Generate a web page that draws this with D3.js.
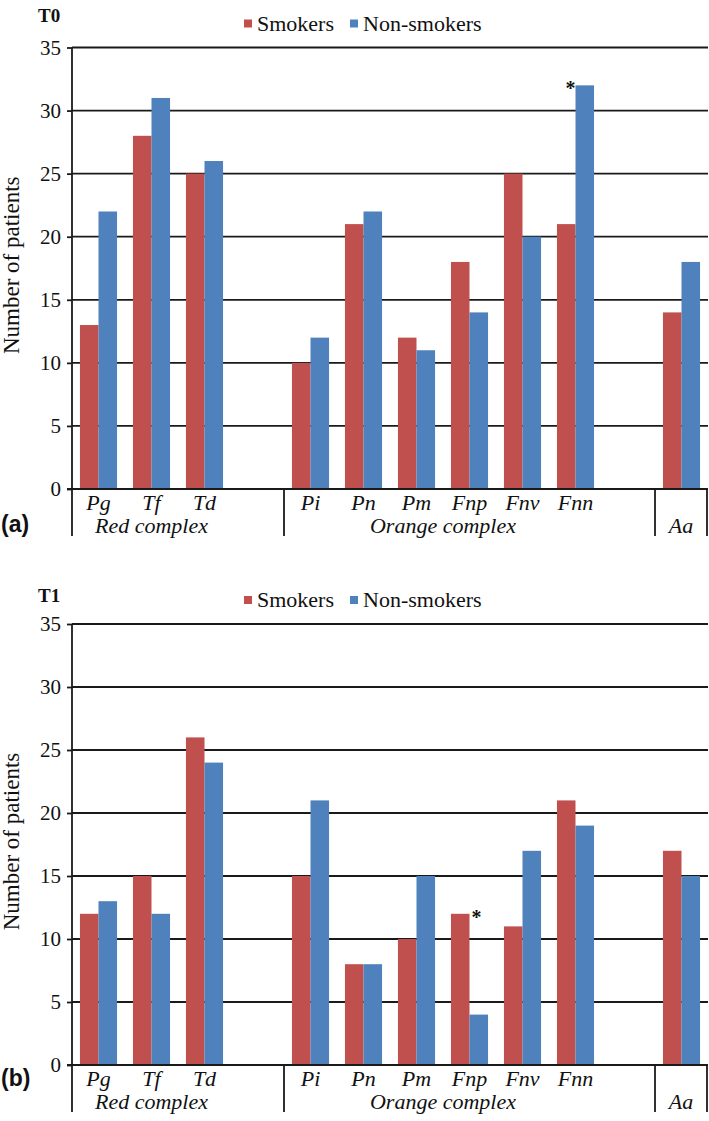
<!DOCTYPE html>
<html>
<head>
<meta charset="utf-8">
<script src="https://cdn.jsdelivr.net/npm/d3@7"></script>
<style>
  html, body { margin: 0; padding: 0; background: #fff; }
  svg { display: block; }
</style>
</head>
<body>
<svg id="chart" width="709" height="1121"></svg>
<script>
// ---- Data ----
const categories = ["Pg", "Tf", "Td", "Pi", "Pn", "Pm", "Fnp", "Fnv", "Fnn", "Aa"];
const categoryLabels = ["Pg", "Tf", "Td", "Pi", "Pn", "Pm", "Fnp", "Fnv", "Fnn", ""];
const groupLabels = ["Red complex", "Orange complex", "Aa"];
const groupOf = [0, 0, 0, 1, 1, 1, 1, 1, 1, 2];
const seriesNames = ["Smokers", "Non-smokers"];
const seriesColors = ["#C0504D", "#4F81BD"];
const yTicks = [0, 5, 10, 15, 20, 25, 30, 35];

const t0Smokers    = [13, 28, 25, 10, 21, 12, 18, 25, 21, 14];
const t0NonSmokers = [22, 31, 26, 12, 22, 11, 14, 20, 32, 18];
const t1Smokers    = [12, 15, 26, 15, 8, 10, 12, 11, 21, 17];
const t1NonSmokers = [13, 12, 24, 21, 8, 15, 4, 17, 19, 15];

// significance markers: [category, series index]
const t0Marks = [["Fnn", 1]];
const t1Marks = [["Fnp", 0]];

const panels = [
  { title: "T0", tag: "(a)", values: [t0Smokers, t0NonSmokers], marks: t0Marks, top: 47.5, bottom: 489, tagY: 532, titleY: 22 },
  { title: "T1", tag: "(b)", values: [t1Smokers, t1NonSmokers], marks: t1Marks, top: 624, bottom: 1065, tagY: 1086, titleY: 602 }
];

// ---- Layout ----
const svg = d3.select("#chart");
const left = 72, right = 708;
const lineColor = "#1a1a1a";
const SERIF = '"Liberation Serif", "Times New Roman", Times, serif';
const SANS = '"Liberation Sans", Arial, Helvetica, sans-serif';

const slots = [];
groupLabels.forEach((g, gi) => {
  categories.forEach((c, ci) => { if (groupOf[ci] === gi) slots.push(c); });
  if (gi < groupLabels.length - 1) slots.push("__blank" + gi);
});

const x = d3.scaleBand().domain(slots).range([left, right]).paddingInner(0.3).paddingOuter(0.15);
const step = x.step();
const slotStart = key => x(key) - (step - x.bandwidth()) / 2;
const xs = d3.scaleBand().domain(seriesNames).range([0, x.bandwidth()]);

panels.forEach(p => {
  const g = svg.append("g");
  const y = d3.scaleLinear().domain([0, 35]).range([p.bottom, p.top]);

  g.selectAll("line.grid").data(yTicks).join("line")
    .attr("x1", left).attr("x2", right)
    .attr("y1", d => y(d)).attr("y2", d => y(d))
    .attr("stroke", lineColor).attr("stroke-width", 1.8);

  const yAxis = d3.axisLeft(y).tickValues(yTicks).tickSize(5).tickPadding(6).tickSizeOuter(0);
  const ya = g.append("g").attr("transform", `translate(${left},0)`).call(yAxis);
  ya.select(".domain").remove();
  ya.selectAll(".tick line").attr("stroke", lineColor).attr("stroke-width", 1.8);
  ya.selectAll(".tick text").style("font-family", SERIF).style("font-size", "21px").attr("fill", "#111");

  categories.forEach((c, ci) => {
    seriesNames.forEach((s, si) => {
      const v = p.values[si][ci];
      g.append("rect")
        .attr("x", x(c) + xs(s))
        .attr("width", xs.bandwidth())
        .attr("y", y(v))
        .attr("height", y(0) - y(v))
        .attr("fill", seriesColors[si]);
    });
  });

  g.append("line").attr("x1", left - 5).attr("x2", right)
    .attr("y1", y(0)).attr("y2", y(0))
    .attr("stroke", lineColor).attr("stroke-width", 1.8);

  const lowY = y(0) + 47;
  g.append("line").attr("x1", left).attr("x2", left)
    .attr("y1", y(35)).attr("y2", lowY)
    .attr("stroke", lineColor).attr("stroke-width", 1.8);

  const bounds = [];
  groupLabels.forEach((gl, gi) => {
    const members = categories.filter((c, ci) => groupOf[ci] === gi);
    const idx = slots.indexOf(members[0]);
    const start = slotStart(members[0]);
    const end = gi < groupLabels.length - 1 ? slotStart(slots[idx + members.length + 1]) : right - 1;
    bounds.push([start, end]);
  });
  bounds.forEach(([s], i) => {
    if (i > 0) {
      g.append("line").attr("x1", s).attr("x2", s).attr("y1", y(0)).attr("y2", lowY)
        .attr("stroke", lineColor).attr("stroke-width", 1.8);
    }
  });
  g.append("line").attr("x1", right - 1).attr("x2", right - 1).attr("y1", y(0)).attr("y2", lowY)
    .attr("stroke", lineColor).attr("stroke-width", 1.8);

  categories.forEach((c, ci) => {
    g.append("text")
      .attr("x", x(c) + x.bandwidth() / 2)
      .attr("y", y(0) + 21)
      .attr("text-anchor", "middle")
      .style("font-family", SERIF).style("font-style", "italic").style("font-size", "22px")
      .attr("fill", "#111")
      .text(categoryLabels[ci]);
  });
  groupLabels.forEach((gl, gi) => {
    const [s, e] = bounds[gi];
    let cx = (s + e) / 2;
    if (gi < groupLabels.length - 1) {
      const members = categories.filter((c, ci) => groupOf[ci] === gi);
      cx = (slotStart(members[0]) + slotStart(members[members.length - 1]) + step) / 2;
    }
    g.append("text")
      .attr("x", cx)
      .attr("y", y(0) + 44)
      .attr("text-anchor", "middle")
      .style("font-family", SERIF).style("font-style", "italic").style("font-size", "22px")
      .attr("fill", "#111")
      .text(gl);
  });

  p.marks.forEach(([c, si]) => {
    const v = p.values[si][categories.indexOf(c)];
    const boundary = x(c) + xs(seriesNames[1]);
    const mx = si === 1 ? boundary - 5 : boundary + 7;
    g.append("text")
      .attr("x", mx).attr("y", y(v) + 10)
      .attr("text-anchor", "middle")
      .style("font-family", SERIF).style("font-weight", "bold").style("font-size", "20px")
      .attr("fill", "#111")
      .text("*");
  });

  g.append("text").attr("x", 38).attr("y", p.titleY)
    .style("font-family", SERIF).style("font-weight", "bold").style("font-size", "19px")
    .attr("fill", "#111").text(p.title);

  const legY = p.top - 17;
  const legX = [244, 350];
  seriesNames.forEach((s, si) => {
    g.append("rect").attr("x", legX[si]).attr("y", legY - 11).attr("width", 8).attr("height", 8)
      .attr("fill", seriesColors[si]);
    g.append("text").attr("x", legX[si] + 13).attr("y", legY)
      .style("font-family", SERIF).style("font-size", "22px").attr("fill", "#111").text(s);
  });

  const midY = (p.top + p.bottom) / 2 - 3;
  g.append("text")
    .attr("transform", `translate(19,${midY}) rotate(-90)`)
    .attr("text-anchor", "middle")
    .style("font-family", SERIF).style("font-size", "23px").attr("fill", "#111")
    .text("Number of patients");

  g.append("text").attr("x", 1).attr("y", p.tagY)
    .style("font-family", SANS).style("font-weight", "bold").style("font-size", "23px")
    .attr("fill", "#111").text(p.tag);
});
</script>
</body>
</html>
